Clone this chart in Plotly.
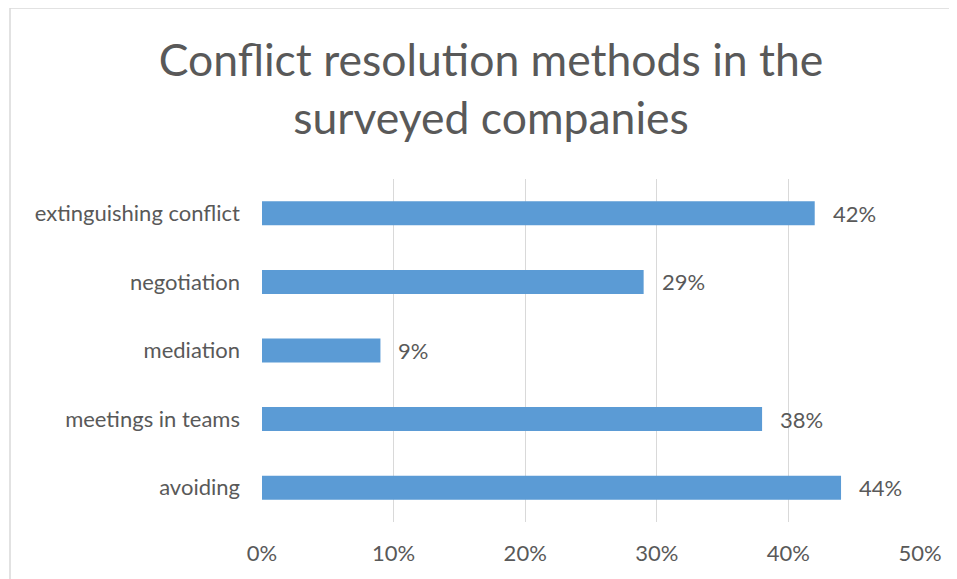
import plotly.graph_objects as go

categories = ["avoiding", "meetings in teams", "mediation", "negotiation", "extinguishing conflict"]
values = [0.44, 0.38, 0.09, 0.29, 0.42]
tick_vals = [0, 0.1, 0.2, 0.3, 0.4, 0.5]
tick_text = ["0%", "10%", "20%", "30%", "40%", "50%"]

TXT = "#595959"
FONT = "Lato, Carlito, Calibri, sans-serif"
OFF = 8  # page body margin offset

W, H = 957 - OFF, 579 - OFF
L = 262 - OFF
T = 179 - OFF
B_PX = 522 - OFF
R = W - (920 - OFF)
Bm = H - B_PX
PW = W - L - R
PH = B_PX - T

fig = go.Figure()
fig.add_trace(go.Bar(
    x=values, y=categories, orientation="h",
    marker=dict(color="#5B9BD5", line=dict(width=0)),
    width=0.35,
))

for c, v in zip(categories, values):
    fig.add_annotation(x=v, y=c, text=f"{round(v*100)}%", showarrow=False,
                       xanchor="left", xshift=16, font=dict(size=22, color=TXT, family=FONT))

bx = (10 - OFF - L) / PW
by = (B_PX - (8 - OFF)) / PH

fig.update_layout(
    width=W, height=H,
    margin=dict(l=L, r=R, t=T, b=Bm),
    paper_bgcolor="white", plot_bgcolor="white",
    showlegend=False,
    title=dict(text="Conflict resolution methods in the<br>surveyed companies",
               x=483 / W, xref="container", xanchor="center",
               y=1 - 68 / H, yref="container", yanchor="top",
               font=dict(size=44.5, color=TXT, family=FONT)),
    xaxis=dict(range=[0, 0.5], tickvals=tick_vals, ticktext=tick_text,
               showgrid=True, gridcolor="#D9D9D9", gridwidth=1.3, zeroline=False,
               showline=False, ticks="", ticklabelstandoff=16,
               tickfont=dict(size=22, color=TXT, family=FONT)),
    yaxis=dict(categoryorder="array", categoryarray=categories,
               showgrid=False, zeroline=False, showline=False, ticks="",
               ticklabelstandoff=21,
               tickfont=dict(size=22, color=TXT, family=FONT)),
    shapes=[
        dict(type="line", xref="paper", yref="paper", x0=bx, x1=2.0,
             y0=by, y1=by, line=dict(color="#D9D9D9", width=1.5)),
        dict(type="line", xref="paper", yref="paper", x0=bx, x1=bx,
             y0=by, y1=-2.0, line=dict(color="#D9D9D9", width=1.5)),
    ],
)
fig.write_html("out.html")
